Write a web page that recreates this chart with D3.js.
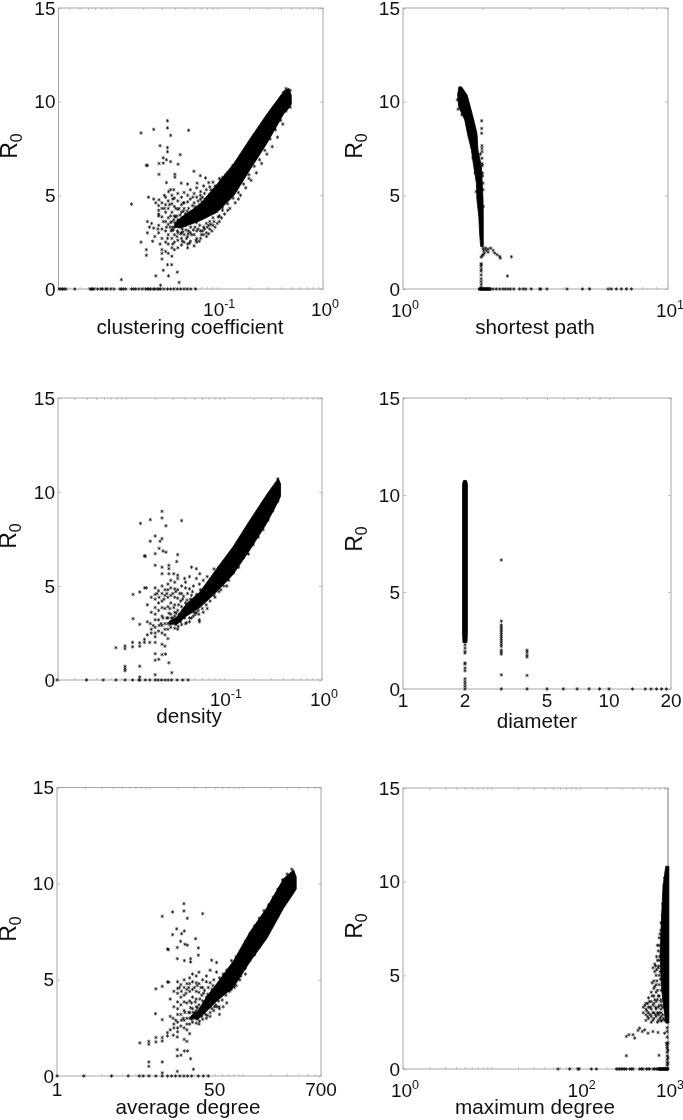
<!DOCTYPE html>
<html><head><meta charset="utf-8">
<style>html,body{margin:0;padding:0;background:#fff}svg{display:block;filter:blur(.4px)}text{font-family:"Liberation Sans",Arial,sans-serif;fill:#111}</style>
<script src="https://cdn.jsdelivr.net/npm/d3@7"></script>
</head><body><svg id="c" width="683" height="1120"></svg>
<script>
// All x values for log-scaled panels are given as log10 exponents.
const r0Ticks = [0,5,10,15];

// clustering coefficient
const ccBand = [[-1.40,3.5,3.3],[-1.346,3.8,3.25],[-1.157,4.55,3.65],[-1.0,5.6,4.1],[-.843,6.7,4.98],[-.686,8.05,6.4],[-.528,9.35,7.8],[-.371,10.55,9.35],[-.324,10.72,9.65],[-.30,10.35,9.85]];
const ccPairs = [[-1.47,8.98],[-1.27,8.47],[-1.60,8.52],[-1.72,8.33],[-1.47,8.6],[-1.44,8.2],[-1.54,7.65],[-1.47,7.55],[-1.47,7.33],[-1.35,7.17],[-1.51,7.0],[-1.48,6.9],[-1.44,6.8],[-1.55,6.7],[-1.51,6.72],[-1.37,6.66],[-1.67,6.6],[-1.66,6.6],[-1.55,6.12],[-1.4,6.12],[-1.40,5.97],[-1.22,6.28],[-1.16,6.05],[-1.11,5.93],[-1.48,5.68],[-1.44,5.3],[-1.41,5.3],[-1.34,5.65],[-1.28,5.6],[-1.19,5.65],[-1.08,5.68],[-1.81,4.53],[-1.65,4.9],[-1.6,4.8],[-1.55,4.76],[-1.5,5.0],[-1.46,5.2],[-1.906,.5],[-1.58,.7],[-1.535,.2],[-1.51,1.0],[-1.47,1.3],[-1.43,1.3],[-1.46,.7],[-1.377,.9],[-1.36,.35],[-1.72,2.5],[-1.67,2.1],[-1.67,1.8],[-1.66,3.6],[-1.64,3.3],[-1.62,3.5],[-1.6,3.25],[-1.66,3.0],[-1.59,2.8],[-1.61,2.55],
 [-1.42,3.3],[-1.41,3.7],[-1.39,3.4],[-1.38,3.9],[-1.36,4.3],[-1.35,3.5],[-1.33,3.2],[-1.33,3.8],[-1.32,4.6],[-1.30,3.4],[-1.30,4.0],[-1.29,2.7],[-1.27,3.1],[-1.27,4.3],[-1.26,3.6],[-1.24,4.1],[-1.24,2.9],[-1.23,4.9],[-1.21,3.3],[-1.21,4.4],[-1.2,2.6],[-1.18,4.7],[-1.18,3.2],[-1.16,5.0],[-1.15,2.9],[-1.14,4.9],[-1.12,3.2],[-1.12,5.1],[-1.1,2.8],[-1.09,4.9],[-1.08,3.4],[-1.06,5.3],[-1.05,3.1],[-1.03,3.6],[-1.02,5.5],[-1.0,3.5],[-.99,3.85],[-.97,5.8],[-.96,3.8],[-.93,4.0],[-.92,6.1],[-.88,4.3],[-.87,6.3],[-.83,4.6],[-.82,6.75],[-.78,5.0],[-.77,7.0],[-.73,5.4],[-.72,7.4],[-.68,5.8],[-.67,7.95],[-.63,6.2],[-.62,8.4],[-.58,6.7],[-.57,8.7],[-.53,7.2],[-.52,9.25],[-.48,7.6],[-.47,9.7],[-.43,8.1],[-.42,10.0],[-.38,8.8],[-.37,10.5],
 [-1.58,4.6],[-1.56,3.2],[-1.54,2.4],[-1.51,3.6],[-1.5,4.3],[-1.48,3.3],[-1.47,2.7],[-1.45,4.5],[-1.44,3.9],[-1.42,4.8],[-1.42,2.4],[-1.39,4.3],[-1.38,2.8],
 [-1.445,3.3],[-1.44,3.55],[-1.435,3.1],[-1.415,3.15],[-1.40,3.55],[-1.395,3.85],[-1.375,3.1],[-1.365,3.65],[-1.35,3.95],[-1.345,2.95],[-1.325,3.05],[-1.32,4.15],[-1.31,3.6],[-1.295,3.15],[-1.285,4.15],[-1.275,2.95],[-1.26,3.95],[-1.25,3.3],[-1.235,4.45],[-1.225,3.15],[-1.205,4.1],[-1.195,3.55],[-1.17,4.5],[-1.165,3.4],[-1.145,4.65],[-1.14,3.1],[-1.115,4.8],[-1.095,3.3],[-1.075,5.05],[-1.06,3.45],[-1.03,5.25],[-1.02,3.3],[-1.33,2.55],[-1.26,2.45],[-1.17,2.55],[-1.08,2.95]];
const ccCols = [[-1.553,[4.0,4.2,4.45,3.9,3.4,3.0]],[-1.522,[4.6,4.3,3.85,3.2,2.7,2.1,1.9,1.6]],[-1.487,[4.9,4.5,4.1,3.6,3.1,2.5,2.0]],[-1.463,[4.7,4.3,3.8,3.45,2.9,2.4,1.9]],[-1.428,[5.0,4.55,4.1,3.6,3.15,2.7,2.2,1.75]],[-1.405,[4.85,4.4,3.9,3.3,2.9,2.5,2.1]],[-1.372,[5.1,4.7,4.25,3.7,3.0,2.6,2.2]],[-1.338,[4.9,4.5,4.1,3.0,2.7,2.35]],[-1.313,[5.15,4.6,4.3,2.9,2.5]],[-1.279,[5.0,4.65,2.8,2.4,2.2]],[-1.254,[5.3,4.8,3.0,2.55]],[-1.218,[5.1,4.6,2.9,2.3]],[-1.193,[5.4,4.9,3.1,2.7,2.5]],[-1.157,[5.2,4.8,3.1,2.7]],[-1.128,[5.5,3.3,2.9]],[-1.103,[5.3,3.5,3.0]],[-1.07,[3.6,3.2,5.45]],[-1.04,[5.7,3.4,3.8]],[-.98,[5.9,3.9,3.6]],[-.95,[5.95,4.35,4.2]],[-.9,[6.2,4.55,4.2]],[-.85,[6.6,4.85]],[-.8,[6.85,5.15,4.8]],[-.75,[7.3,5.6]],[-.7,[7.75,5.9,6.1]],[-.65,[8.2,6.55]],[-.6,[8.6,6.9]],[-.55,[9.0,7.4]],[-.5,[9.4,8.0]],[-.45,[9.8,8.5]],[-.4,[10.2,9.0]],[-.35,[10.7,9.5]],[-.31,[10.6,9.7,10.0]]];
const ccZero = [-2.494,-2.478,-2.462,-2.447,-2.43,-2.346,-2.2,-2.19,-2.176,-2.164,-2.13,-2.10,-2.085,-2.053,-2.04,-2.006,-1.975,-1.918,-1.906,-1.887,-1.865,-1.81,-1.79,-1.77,-1.74,-1.708,-1.676,-1.66,-1.645,-1.63,-1.604,-1.59,-1.566,-1.55,-1.535,-1.503,-1.47,-1.44,-1.41,-1.377,-1.346,-1.314,-1.283,-1.25,-1.204];

// shortest path (band is listed along R0: R0, left, right)
const spBand = [[10.79,.211,.221],[10.35,.206,.242],[9.73,.210,.254],[9.02,.233,.267],[8.31,.243,.279],[7.42,.258,.283],[6.53,.267,.296],[5.65,.277,.299],[4.76,.279,.302],[3.87,.286,.303],[2.98,.289,.303],[2.27,.293,.303]];
const spPairs = [[.297,8.98],[.297,8.57],[.297,8.31],[.298,7.65],[.298,7.5],[.298,7.33],[.298,6.98],[.298,6.7],[.3,6.6],[.3,6.18],[.3,6.03],[.302,5.65],[.302,2.18],[.304,2.06],[.311,2.18],[.314,2.06],[.321,2.13],[.331,2.18],[.34,2.06],[.346,1.92],[.355,1.83],[.365,1.74],[.367,1.65],[.409,1.72],[.394,.69],[.302,1.83],[.299,1.78],[.307,1.92],[.321,1.97],[.205,10.1],[.208,9.6],[.222,9.3],[.245,8.7],[.25,8.2],[.262,7.8],[.275,8.1],[.264,7.0],[.292,7.2],[.272,6.2],[.302,5.3],[.276,5.2],[.303,4.4]];
const spCols = [[.295,[1.7,1.35,1.3,1.2,1.05,.95,.75,.55,.4,.25,.1]]];
const spZero = [.288,.29,.292,.294,.296,.298,.30,.302,.304,.306,.308,.31,.312,.314,.316,.318,.32,.322,.324,.326,.328,.33,.34,.352,.365,.377,.386,.396,.405,.418,.44,.453,.463,.484,.516,.52,.543,.619,.677,.704,.774,.786,.805,.824,.843,.862];

// density
const deBand = [[-1.56,3.1,3.0],[-1.48,3.35,2.95],[-1.381,4.05,3.4],[-1.245,4.68,3.85],[-1.075,5.9,4.68],[-.905,7.1,5.62],[-.735,8.5,6.92],[-.565,9.85,8.32],[-.446,10.72,9.5],[-.422,10.44,9.78]];
const dePairs = [[-1.63,8.97],[-1.63,8.62],[-1.43,8.48],[-1.75,8.53],[-1.85,8.33],[-1.59,8.2],[-1.70,7.66],[-1.63,7.52],[-1.65,7.38],[-1.75,7.38],[-1.47,6.67],[-1.66,7.0],[-1.62,6.86],[-1.59,6.8],[-1.70,6.72],[-1.81,6.6],[-1.80,6.58],[-1.48,6.3],[-1.70,6.1],[-1.63,6.0],[-1.56,6.1],[-1.56,5.92],[-1.33,6.0],[-1.28,5.92],[-1.63,5.65],[-1.56,5.65],[-1.51,5.65],[-1.47,5.57],[-1.4,5.4],[-1.245,5.65],[-1.925,4.55],[-1.857,4.68],[-1.806,4.9],[-1.79,4.9],[-1.925,3.26],[-1.857,2.96],[-2.10,1.72],[-2.007,1.81],[-2.007,1.67],[-1.93,2.0],[-1.93,1.77],[-1.857,1.98],[-1.857,1.8],[-1.81,2.16],[-1.81,2.0],[-1.755,2.0],[-1.7,2.0],[-2.007,.73],[-2.007,.6],[-2.007,.5],[-1.857,.73],[-1.70,1.4],[-1.7,1.05],[-1.663,1.1],[-1.63,1.35],[-1.595,1.38],[-1.56,.92],[-1.53,.39],[-1.7,.28],[-1.857,.16],
 [-1.53,3.0],[-1.52,3.3],[-1.5,3.6],[-1.49,2.95],[-1.47,3.2],[-1.46,4.0],[-1.45,3.5],[-1.44,3.1],[-1.42,4.3],[-1.42,3.7],[-1.40,3.3],[-1.39,4.1],[-1.38,3.05],[-1.37,4.6],[-1.36,3.9],[-1.34,4.3],[-1.33,3.3],[-1.32,4.7],[-1.30,4.0],[-1.29,3.5],[-1.27,4.4],[-1.26,3.7],[-1.24,4.8],[-1.23,4.3],[-1.22,3.8],[-1.19,4.9],[-1.18,4.0],[-1.15,5.2],[-1.14,4.2],[-1.12,5.4],[-1.09,4.4],[-1.07,5.7],[-1.03,4.8],[-.98,6.1],[-.97,5.0],[-1.75,3.0],[-1.72,2.9],[-1.7,3.2],[-1.66,2.9],[-1.64,3.0],[-1.62,3.3],[-1.6,2.7],[-1.68,4.6],[-1.66,4.4],[-1.61,4.3],[-1.58,4.6],[-1.55,3.8],[-1.52,4.6],[-1.49,4.7],[-1.45,4.6],
 [-1.58,3.3],[-1.56,3.55],[-1.55,2.95],[-1.535,3.3],[-1.51,3.85],[-1.505,3.15],[-1.485,3.55],[-1.465,2.85],[-1.44,4.2],[-1.43,3.4],[-1.41,4.45],[-1.405,3.6],[-1.375,4.25],[-1.35,3.6],[-1.33,4.5],[-1.305,3.6],[-1.28,4.55],[-1.255,3.5],[-1.2,4.6]];
const deCols = [[-1.78,[4.0,3.1,2.4]],[-1.74,[4.4,3.6,2.7,2.5]],[-1.70,[4.9,4.55,4.3,3.85,3.5,2.8,2.5,2.3]],[-1.665,[4.75,4.1,3.7,3.2,2.6]],[-1.63,[5.0,4.6,4.2,3.85,3.4,2.9,2.5,1.9]],[-1.60,[4.8,4.5,3.8,3.0,2.4,1.8]],[-1.57,[5.1,4.8,4.4,3.9,3.3,3.0,2.7,2.2]],[-1.54,[5.3,4.9,4.5,4.1,3.5,3.1,2.8]],[-1.50,[5.2,4.85,4.4,4.0,3.4,2.75]],[-1.47,[5.4,4.8,4.35,3.7,2.7]],[-1.43,[5.0,4.6,3.9,2.95]],[-1.39,[5.2,4.9,3.0]],[-1.35,[5.5,4.85,3.3,3.1]],[-1.31,[5.0,3.4]],[-1.28,[5.4,3.6]],[-1.25,[5.1,3.2,3.1]],[-1.21,[5.3,3.6]],[-1.17,[5.5,3.8]],[-1.1,[5.9,4.5]],[-1.05,[6.0,4.7]],[-1.0,[6.3,5.0]],[-.95,[6.6,5.3]],[-.9,[7.0,5.7]],[-.85,[7.3,6.0]],[-.8,[7.7,6.5]],[-.75,[8.2,6.7]],[-.7,[8.6,7.2]],[-.65,[9.0,7.6]],[-.6,[9.4,8.0]],[-.55,[9.8,8.5]],[-.5,[10.2,9.0]],[-.45,[10.7,9.5]]];
const deZero = [-2.70,-2.4,-2.23,-2.10,-2.007,-1.93,-1.864,-1.857,-1.80,-1.755,-1.70,-1.67,-1.636,-1.60,-1.568,-1.534,-1.476,-1.42,-1.364];

// diameter (real values on the x axis)
const diBand = [[2.4,1.955,2.045],[2.9,1.945,2.055],[10.55,1.945,2.055],[10.75,1.965,2.035]];
const diPairs = [[3,6.65],[3,.73],[3,0],[4,2.0],[4,1.9],[4,1.75],[4,1.65],[4,.7],[4,0]];
const diCols = [[2,[2.45,2.28,2.11,1.94,1.85,1.34,1.29,1.08,.94,.53,.39,.27,.14,0]],[3,[3.5,3.3,3.2,3.1,3.0,2.9,2.8,2.7,2.6,2.5,2.4,2.3,2.2,2.0,1.9,1.8]]];
const diZero = [5,6,7,8,9,10,13,15,16,17,18,19];

// average degree
const adBand = [[1.44,3.1,3.0],[1.52,3.4,2.95],[1.61,4.1,3.35],[1.721,4.80,3.9],[1.901,5.98,4.6],[2.081,7.5,5.95],[2.261,8.75,7.15],[2.441,10.25,8.72],[2.55,10.72,9.5],[2.578,10.35,9.72]];
const adPairs = [[1.368,8.96],[1.368,8.58],[1.57,8.44],[1.246,8.53],[1.134,8.3],[1.404,8.2],[1.29,7.65],[1.372,7.54],[1.343,7.4],[1.246,7.35],[1.494,7.14],[1.332,7.0],[1.379,6.85],[1.404,6.8],[1.296,6.68],[1.192,6.6],[1.2,6.57],[1.523,6.66],[1.523,6.28],[1.296,6.1],[1.372,6.0],[1.44,6.1],[1.44,5.93],[1.667,6.02],[1.72,5.9],[1.066,4.53],[1.134,4.66],[1.192,4.89],[1.205,4.88],[1.062,3.24],[1.134,2.93],[.893,1.72],[.99,1.8],[.99,1.65],[1.066,2.0],[1.066,1.77],[1.134,2.0],[1.134,1.82],[1.19,2.25],[1.19,2.08],[1.253,2.12],[1.296,2.03],[.99,.73],[.99,.5],[1.134,.73],[1.296,1.37],[1.296,1.04],[1.336,1.08],[1.372,1.3],[1.408,1.3],[1.44,.9],[1.47,.35],[1.296,.24],[1.134,.16],
 [1.47,3.0],[1.48,3.3],[1.5,3.6],[1.51,2.95],[1.53,3.2],[1.54,4.0],[1.55,3.5],[1.56,3.1],[1.58,4.3],[1.58,3.7],[1.60,3.2],[1.61,4.1],[1.62,3.15],[1.63,4.6],[1.64,3.9],[1.66,4.3],[1.67,3.5],[1.68,4.7],[1.70,4.0],[1.71,3.7],[1.73,4.4],[1.74,3.9],[1.76,4.8],[1.77,4.3],[1.78,3.95],[1.81,4.9],[1.82,4.2],[1.85,5.2],[1.86,4.4],[1.88,5.4],[1.91,4.6],[1.93,5.7],[1.97,5.0],[2.02,6.1],[2.03,5.3],[1.25,3.0],[1.28,2.9],[1.3,3.2],[1.34,2.9],[1.36,3.0],[1.38,3.3],[1.4,2.7],[1.32,4.6],[1.34,4.4],[1.39,4.3],[1.42,4.6],[1.45,3.8],[1.48,4.6],[1.51,4.7],[1.55,4.6],
 [1.42,3.3],[1.44,3.55],[1.45,2.95],[1.465,3.3],[1.49,3.85],[1.495,3.15],[1.515,3.55],[1.535,2.85],[1.56,4.2],[1.57,3.4],[1.59,4.45],[1.595,3.6],[1.625,4.25],[1.65,3.6],[1.67,4.5],[1.695,3.6],[1.72,4.55],[1.745,3.6],[1.8,4.6]];
const adCols = [[1.22,[4.0,3.1,2.4]],[1.26,[4.4,3.6,2.7,2.5]],[1.30,[4.9,4.55,4.3,3.85,3.5,2.8,2.5,2.3]],[1.335,[4.75,4.1,3.7,3.2,2.6]],[1.37,[5.0,4.6,4.2,3.85,3.4,2.9,2.5,1.9]],[1.40,[4.8,4.5,3.8,3.0,2.4,1.8]],[1.43,[5.1,4.8,4.4,3.9,3.3,3.0,2.7,2.2]],[1.46,[5.3,4.9,4.5,4.1,3.5,3.1,2.8]],[1.50,[5.2,4.85,4.4,4.0,3.4,2.75]],[1.53,[5.4,4.8,4.35,3.7,2.7]],[1.57,[5.0,4.6,3.9,2.95]],[1.61,[5.2,4.9,3.0]],[1.65,[5.5,4.85,3.3,3.1]],[1.69,[5.0,3.4]],[1.72,[5.4,3.6]],[1.75,[5.1,3.2,3.5]],[1.79,[5.3,3.6]],[1.83,[5.5,3.8]],[1.88,[6.0,4.5]],[1.93,[6.2,4.7]],[1.98,[6.5,5.2]],[2.03,[7.0,5.6]],[2.08,[7.4,6.0]],[2.13,[7.8,6.3]],[2.18,[8.2,6.7]],[2.23,[8.6,7.1]],[2.28,[8.9,7.5]],[2.33,[9.3,8.0]],[2.38,[9.7,8.3]],[2.43,[10.2,8.8]],[2.48,[10.5,9.2]],[2.53,[10.75,9.6]]];
const adZero = [0,.288,.587,.767,.886,.929,.99,1.066,1.134,1.192,1.235,1.278,1.325,1.368,1.408,1.451,1.523,1.577,1.631];

// maximum degree (band listed along R0: R0, left, right)
const mdBand = [[10.82,2.974,3.01],[9.72,2.943,3.01],[7.94,2.925,3.01],[6.17,2.91,3.01],[4.40,2.925,3.01],[3.51,2.945,3.01],[2.45,2.975,3.01]];
const mdPairs = [[2.528,1.74],[2.558,1.83],[2.604,1.83],[2.623,1.65],[2.66,2.06],[2.679,2.18],[2.709,2.0],[2.736,2.09],[2.774,1.91],[2.83,2.0],[2.887,1.95],[2.962,1.91],[2.528,.71],[2.898,.73],[2.981,1.38],[2.989,1.2],[2.77,3.5],[2.82,4.6],[2.85,5.2],[2.83,5.4],[2.87,6.0],[2.88,6.6],[2.9,7.0],[2.92,7.4],
 [2.74,3.4],[2.76,3.1],[2.77,2.8],[2.79,3.6],[2.8,3.3],[2.8,2.9],[2.82,3.9],[2.83,3.4],[2.83,3.0],[2.83,2.6],[2.85,4.4],[2.85,3.7],[2.86,3.3],[2.86,2.9],[2.875,4.7],[2.88,4.2],[2.88,3.7],[2.88,3.0],[2.88,2.5],[2.9,5.0],[2.9,4.5],[2.9,3.9],[2.9,3.4],[2.9,3.0],[2.91,2.7],[2.92,4.2],[2.92,3.7],[2.92,3.0],[2.93,2.6],[2.94,3.3],[2.94,2.9],[2.95,2.7],[2.96,2.6],[2.85,5.6],[2.86,5.5],[2.87,5.3],[2.88,5.8],[2.89,6.3],[2.9,6.6],[2.91,7.2],[2.92,7.8],[2.935,8.2],[2.94,8.8],[2.95,9.3],[2.955,9.8],[2.96,10.2],[2.895,5.5],[2.905,6.0],[2.9,5.8],[2.91,5.2],[2.915,4.8],[2.925,3.4]];
const mdCols = [[2.72,[3.3,3.0]],[2.75,[3.5,3.2,2.9,2.6]],[2.78,[3.8,3.3,3.0,2.7]],[2.81,[4.1,3.6,3.2,2.8,2.5]],[2.84,[4.7,4.3,3.9,3.5,3.0,2.7]],[2.865,[5.0,4.5,4.1,3.6,3.2,2.8]],[2.89,[5.4,3.9,3.3,2.9,2.6]],[2.92,[3.6,3.2,2.8,2.55]],[2.99,[2.2,2.0,1.7,1.3,1.1,.9,.7,.5,.35,.2]],[3.0,[1.4,1.0,.6,.3]]];
const mdZero = [1.755,1.887,1.981,1.992,2.132,2.189,2.415,2.434,2.453,2.472,2.491,2.509,2.528,2.566,2.585,2.604,2.679,2.698,2.717,2.755,2.774,2.792,2.83,2.849,2.868,2.887,2.895,2.9,2.905,2.91,2.915,2.92,2.925,2.93,2.935,2.94,2.945,2.95,2.955,2.96,2.965,2.97,2.975,2.98,2.985,2.99,2.995,3.0];

const expo = e => Math.pow(10,e), same = v => v;
const panels = [
 {name:"clustering coefficient",dom:[-2.5,0],conv:expo,band:ccBand,along:"x",pairs:ccPairs,cols:ccCols,zero:ccZero,
  labels:[[-1,"10","-1"],[0,"10","0"]],box:[58.5,323,8,289],xlab:[190,334],tickY:316,r0:[17,146]},
 {name:"shortest path",dom:[0,1],conv:expo,band:spBand,along:"y",pairs:spPairs,cols:spCols,zero:spZero,
  labels:[[0,"10","0"],[1,"10","1"]],box:[403,668,8,289],xlab:[535,334],tickY:317,r0:[362,146]},
 {name:"density",dom:[-2.69,0],conv:expo,band:deBand,along:"x",pairs:dePairs,cols:deCols,zero:deZero,
  labels:[[-1,"10","-1"],[0,"10","0"]],box:[58,322,398,680],xlab:[189,723],tickY:706,r0:[16,536]},
 {name:"diameter",dom:[1,20],conv:same,band:diBand,along:"y",pairs:diPairs,cols:diCols,zero:diZero,
  labels:[[1,"1"],[2,"2"],[5,"5"],[10,"10"],[20,"20"]],box:[403,671,398,689],xlab:[537,728],tickY:707,r0:[362,539]},
 {name:"average degree",dom:[0,Math.log10(700)],conv:expo,band:adBand,along:"x",pairs:adPairs,cols:adCols,zero:adZero,
  labels:[[0,"1"],[Math.log10(50),"50"],[Math.log10(700),"700"]],box:[57,321,787.5,1076],xlab:[188,1114],tickY:1096,r0:[16,929]},
 {name:"maximum degree",dom:[0,3],conv:expo,band:mdBand,along:"y",pairs:mdPairs,cols:mdCols,zero:mdZero,
  labels:[[0,"10","0"],[2,"10","2"],[3,"10","3"]],box:[403,668,788,1069],xlab:[535,1114],tickY:1097,r0:[362,926],thickRight:true}
];

const svg = d3.select("#c");
const star = d3.symbol().type(d3.symbolAsterisk).size(9)();
const FRAME = "#a6a6a6";

panels.forEach(p=>{
  const [L,R,T,B] = p.box;
  const domX = p.conv===expo ? p.dom.map(expo) : p.dom;
  const x = d3.scaleLog().domain(domX).range([L,R]);
  const y = d3.scaleLinear().domain([0,15]).range([B,T]);
  const g = svg.append("g");

  // frame and inward ticks go under the marks
  g.append("rect").attr("x",L).attr("y",T).attr("width",R-L).attr("height",B-T)
    .attr("fill","none").attr("stroke",FRAME).attr("stroke-width",1);
  if(p.thickRight) g.append("line").attr("x1",R).attr("x2",R).attr("y1",T).attr("y2",B).attr("stroke","#bbb").attr("stroke-width",2);
  const style = a => { a.select(".domain").remove(); a.selectAll("line").attr("stroke",FRAME).attr("stroke-width",.7); a.selectAll("text").remove(); };
  const xt = x.ticks();
  g.append("g").attr("transform",`translate(0,${B})`).call(d3.axisBottom(x).tickValues(xt).tickSize(-2).tickFormat("")).call(style);
  g.append("g").attr("transform",`translate(0,${T})`).call(d3.axisTop(x).tickValues(xt).tickSize(-2).tickFormat("")).call(style);
  g.append("g").attr("transform",`translate(${L},0)`).call(d3.axisLeft(y).tickValues(r0Ticks).tickSize(-3)).call(style);
  g.append("g").attr("transform",`translate(${R},0)`).call(d3.axisRight(y).tickValues(r0Ticks).tickSize(-3)).call(style);

  // dense band
  const area = p.along==="x"
    ? d3.area().x(d=>x(p.conv(d[0]))).y0(d=>y(d[2])).y1(d=>y(d[1]))
    : d3.area().y(d=>y(d[0])).x0(d=>x(p.conv(d[1]))).x1(d=>x(p.conv(d[2])));
  g.append("path").datum(p.band).attr("d",area)
    .attr("fill","#000").attr("stroke","#000").attr("stroke-width",.8);

  // individual points
  const pts = [...p.pairs, ...p.cols.flatMap(([e,ys])=>ys.map(v=>[e,v])), ...p.zero.map(e=>[e,0])];
  g.append("g").selectAll("path").data(pts).join("path")
    .attr("d",star).attr("transform",d=>`translate(${x(p.conv(d[0]))},${y(d[1])})`)
    .attr("fill","none").attr("stroke","#000").attr("stroke-width",.8).attr("stroke-opacity",.8);

  // y tick labels
  r0Ticks.forEach(t=>{
    g.append("text").attr("x",L-3).attr("y",y(t)+6.6).attr("text-anchor","end").attr("font-size",19).text(t);
  });
  // x tick labels
  p.labels.forEach(([v,main,sup])=>{
    const pos = x(p.conv(v));
    const tx = g.append("text").attr("x",pos+(sup?2:0)).attr("y",p.tickY).attr("text-anchor","middle").attr("font-size",19);
    tx.append("tspan").text(main);
    if(sup) tx.append("tspan").attr("font-size",12.5).attr("dy",-8).text(sup);
  });
  // axis titles
  g.append("text").attr("x",p.xlab[0]).attr("y",p.xlab[1]).attr("text-anchor","middle").attr("font-size",20.7).text(p.name);
  const r = g.append("text").attr("transform",`translate(${p.r0[0]},${p.r0[1]}) rotate(-90)`).attr("text-anchor","middle").attr("font-size",23);
  r.append("tspan").text("R");
  r.append("tspan").attr("font-size",16).attr("dy",5).text("0");
});
</script></body></html>
